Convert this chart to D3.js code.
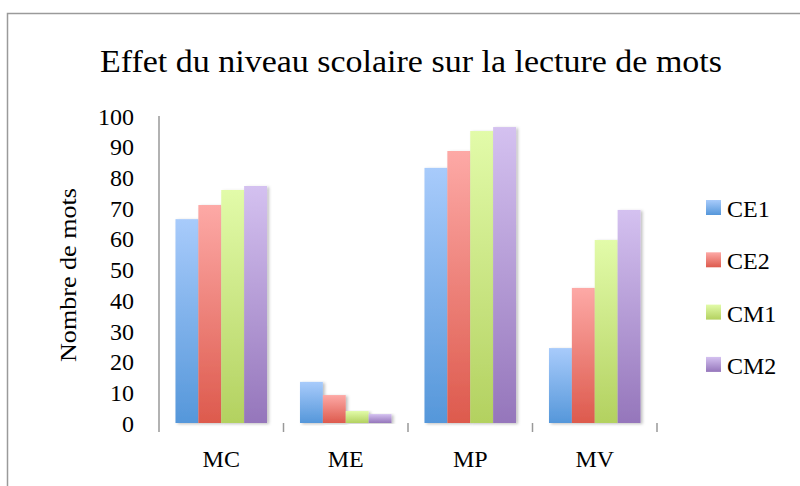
<!DOCTYPE html>
<html>
<head>
<meta charset="utf-8">
<script src="https://cdn.jsdelivr.net/npm/d3@7"></script>
<style>
	body { margin: 0; background: #fff; }
	svg { display: block; font-family: 'Liberation Serif', 'DejaVu Serif', serif; }
</style>
</head>
<body>
<svg width="800" height="486"></svg>
<script>
const categories = ['MC', 'ME', 'MP', 'MV'];
const series = ['CE1', 'CE2', 'CM1', 'CM2'];
const valuesCE1 = [66.4, 13.4, 83.1, 24.4];
const valuesCE2 = [71.0, 9.1, 88.6, 44.0];
const valuesCM1 = [75.9, 3.9, 95.1, 59.6];
const valuesCM2 = [77.2, 2.9, 96.4, 69.4];
const yTicks = [0, 10, 20, 30, 40, 50, 60, 70, 80, 90, 100];

const allValues = [valuesCE1, valuesCE2, valuesCM1, valuesCM2];
const colors = [
	['#a8cbfb', '#5597da'],
	['#fda9a6', '#dd5a4d'],
	['#e2fba9', '#b3d160'],
	['#d4c1f0', '#9576bb']
];

const svg = d3.select('svg'),
	margin = {left: 159, top: 116, right: 143, bottom: 63},
	width = 800 - margin.left - margin.right,
	height = 486 - margin.top - margin.bottom;

const defs = svg.append('defs');
colors.forEach((c, i) => {
	let g = defs.append('linearGradient').attr('id', 'grad' + i)
		.attr('x1', 0).attr('y1', 0).attr('x2', 0).attr('y2', 1);
	g.append('stop').attr('offset', '0%').attr('stop-color', c[0]);
	g.append('stop').attr('offset', '100%').attr('stop-color', c[1]);
});
let shadow = defs.append('filter').attr('id', 'shadow')
	.attr('x', '-20%').attr('y', '-5%').attr('width', '150%').attr('height', '110%');
shadow.append('feDropShadow').attr('dx', 2).attr('dy', 1).attr('stdDeviation', 1.5)
	.attr('flood-color', '#000').attr('flood-opacity', 0.25);

// outer frame
svg.append('path')
	.attr('d', 'M7.5,490 L7.5,13.5 L805,13.5')
	.attr('fill', 'none').attr('stroke', '#9a9a9a').attr('stroke-width', 1.5);

svg.append('text')
	.attr('x', 100).attr('y', 72)
	.attr('font-size', 31)
	.attr('textLength', 622).attr('lengthAdjust', 'spacingAndGlyphs')
	.text('Effet du niveau scolaire sur la lecture de mots');

const x = d3.scaleBand().domain(categories).range([0, width]).paddingInner(0).paddingOuter(0);
const x1 = d3.scaleBand().domain(series).range([0, x.bandwidth()]).paddingOuter(0.72);
const y = d3.scaleLinear().domain([0, 100]).range([height, 0]);

const chart = svg.append('g').attr('transform', `translate(${margin.left},${margin.top})`);

// grid
chart.append('g').selectAll('line').data(yTicks).enter().append('line')
	.attr('x1', -8).attr('x2', width)
	.attr('y1', d => y(d)).attr('y2', d => y(d))
	.attr('stroke', '#999').attr('stroke-width', 1.5)
	.attr('filter', 'url(#shadow)');

// y axis
let yAxis = chart.append('g')
	.call(d3.axisLeft(y).tickValues(yTicks).tickSize(0).tickPadding(25));
yAxis.select('.domain').remove();
yAxis.selectAll('text').attr('font-size', 24).attr('font-family', 'Liberation Serif, serif').attr('fill', '#000')
	.attr('dy', '0.34em');

chart.append('line')
	.attr('x1', 0).attr('x2', 0).attr('y1', 0).attr('y2', height + 9)
	.attr('stroke', '#999').attr('stroke-width', 1.5);

// x axis
let xAxis = chart.append('g').attr('transform', `translate(0,${height})`)
	.call(d3.axisBottom(x).tickSize(0).tickPadding(0));
xAxis.select('.domain').remove();
xAxis.selectAll('text').attr('font-size', 24).attr('font-family', 'Liberation Serif, serif').attr('fill', '#000')
	.attr('dy', null).attr('y', 44);
chart.append('g').selectAll('line').data(categories).enter().append('line')
	.attr('x1', d => x(d) + x.bandwidth()).attr('x2', d => x(d) + x.bandwidth())
	.attr('y1', height).attr('y2', height + 9)
	.attr('stroke', '#999').attr('stroke-width', 1.5);

// bars
series.forEach((s, si) => {
	chart.append('g').selectAll('rect').data(categories).enter().append('rect')
		.attr('x', d => x(d) + x1(s))
		.attr('width', x1.bandwidth())
		.attr('y', (d, ci) => y(allValues[si][ci]))
		.attr('height', (d, ci) => height - y(allValues[si][ci]))
		.attr('fill', `url(#grad${si})`)
		.attr('filter', 'url(#shadow)');
});

svg.append('text')
	.attr('transform', 'translate(76,275) rotate(-90)')
	.attr('text-anchor', 'middle')
	.attr('font-size', 23)
	.attr('textLength', 174).attr('lengthAdjust', 'spacingAndGlyphs')
	.text('Nombre de mots');

// legend
let legend = svg.append('g').selectAll('g').data(series).enter().append('g')
	.attr('transform', (d, i) => `translate(706,${200 + i * 52.3})`);
legend.append('rect').attr('width', 15).attr('height', 15)
	.attr('fill', (d, i) => `url(#grad${i})`);
legend.append('text').attr('x', 21).attr('y', 17)
	.attr('font-size', 24).text(d => d);
</script>
</body>
</html>
